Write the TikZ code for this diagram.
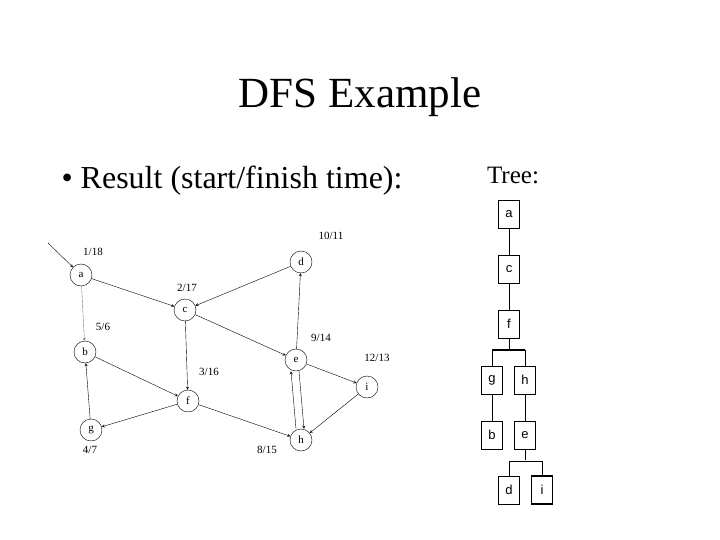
\documentclass[tikz,border=0pt]{standalone}
\usepackage{fontspec}
\setmainfont{Liberation Serif}
\newfontfamily\treefont{Liberation Sans}
\begin{document}
\begin{tikzpicture}[x=1pt,y=-1pt,
  vtx/.style={circle,draw,thin,minimum size=22pt,inner sep=0pt,font=\fontsize{11}{12}\selectfont},
  lbl/.style={font=\fontsize{11}{12}\selectfont},
  edge/.style={->,>=stealth,thin},
  tbox/.style={draw,thin,minimum width=21pt,minimum height=28pt,inner sep=0pt,font=\treefont\fontsize{13}{14}\selectfont},
  tl/.style={thin}]
\useasboundingbox (0,0) rectangle (720,540);
\node[font=\fontsize{43}{48}\selectfont] (title) at (360,97) {DFS Example};
\node[font=\fontsize{32}{36}\selectfont,anchor=west] (res) at (58,181) {\textbullet\ Result (start/finish time):};
\node[font=\fontsize{25}{28}\selectfont] (tree) at (513,175) {Tree:};
% graph
\node[vtx] (a) at (81,275) {a};
\node[vtx] (d) at (301,262) {d};
\node[vtx] (c) at (185,310) {c};
\node[vtx] (b) at (85,352) {b};
\node[vtx] (e) at (296,360) {e};
\node[vtx] (i) at (367,387) {i};
\node[vtx] (f) at (188,401) {f};
\node[vtx] (g) at (91,430) {g};
\node[vtx] (h) at (301,440) {h};
\node[lbl] (la) at (93,252) {1/18};
\node[lbl] (ld) at (331,236) {10/11};
\node[lbl] (lc) at (187,288) {2/17};
\node[lbl] (lb) at (103,327) {5/6};
\node[lbl] (le) at (321,338) {9/14};
\node[lbl] (li) at (377,358) {12/13};
\node[lbl] (lf) at (209,372) {3/16};
\node[lbl] (lg) at (90,450) {4/7};
\node[lbl] (lh) at (267,450) {8/15};
\coordinate (s) at (48,243);
\draw[edge] (s) -- (a);
\draw[edge] (a) -- (c);
\draw[edge,gray] (a) -- (b);
\draw[edge] (d) -- (c);
\draw[edge] (c) -- (e);
\draw[edge] (c) -- (f);
\draw[edge] (b) -- (f);
\draw[edge] (f) -- (g);
\draw[edge] (g) -- (b);
\draw[edge] (f) -- (h);
\draw[edge] (e) -- (d);
\draw[edge] ([xshift=3pt]e.south) -- ([xshift=3pt]h.north);
\draw[edge] ([xshift=-5pt]h.north) -- ([xshift=-5pt]e.south);
\draw[edge] (e) -- (i);
\draw[edge] (i) -- (h);
% tree
\node[tbox] (ta) at (509,214) {a};
\node[tbox] (tc) at (509,269) {c};
\node[tbox] (tf) at (509,324) {f};
\node[tbox] (tg) at (492,380) {g};
\node[tbox] (th) at (525,380) {h};
\node[tbox] (tb) at (492,435) {b};
\node[tbox] (te) at (525,435) {e};
\node[tbox] (td) at (509,490) {d};
\node[tbox,line width=1.2pt] (ti) at (542,490) {i};
\draw[tl] (ta) -- (tc);
\draw[tl] (tc) -- (tf);
\draw[tl] (tf.south) -- ++(0,11);
\draw[line width=1.5pt] (tg.north|-0,350) -- (th.north|-0,350);
\draw[tl] (tg.north) -- (tg.north|-0,350);
\draw[tl] (th.north) -- (th.north|-0,350);
\draw[tl] (tg) -- (tb);
\draw[tl] (th) -- (te);
\draw[tl] (te.south) -- ++(0,11);
\draw[line width=1pt] (td.north|-0,461) -- (ti.north|-0,461);
\draw[tl] (td.north) -- (td.north|-0,461);
\draw[tl] (ti.north) -- (ti.north|-0,461);
\end{tikzpicture}
\end{document}
